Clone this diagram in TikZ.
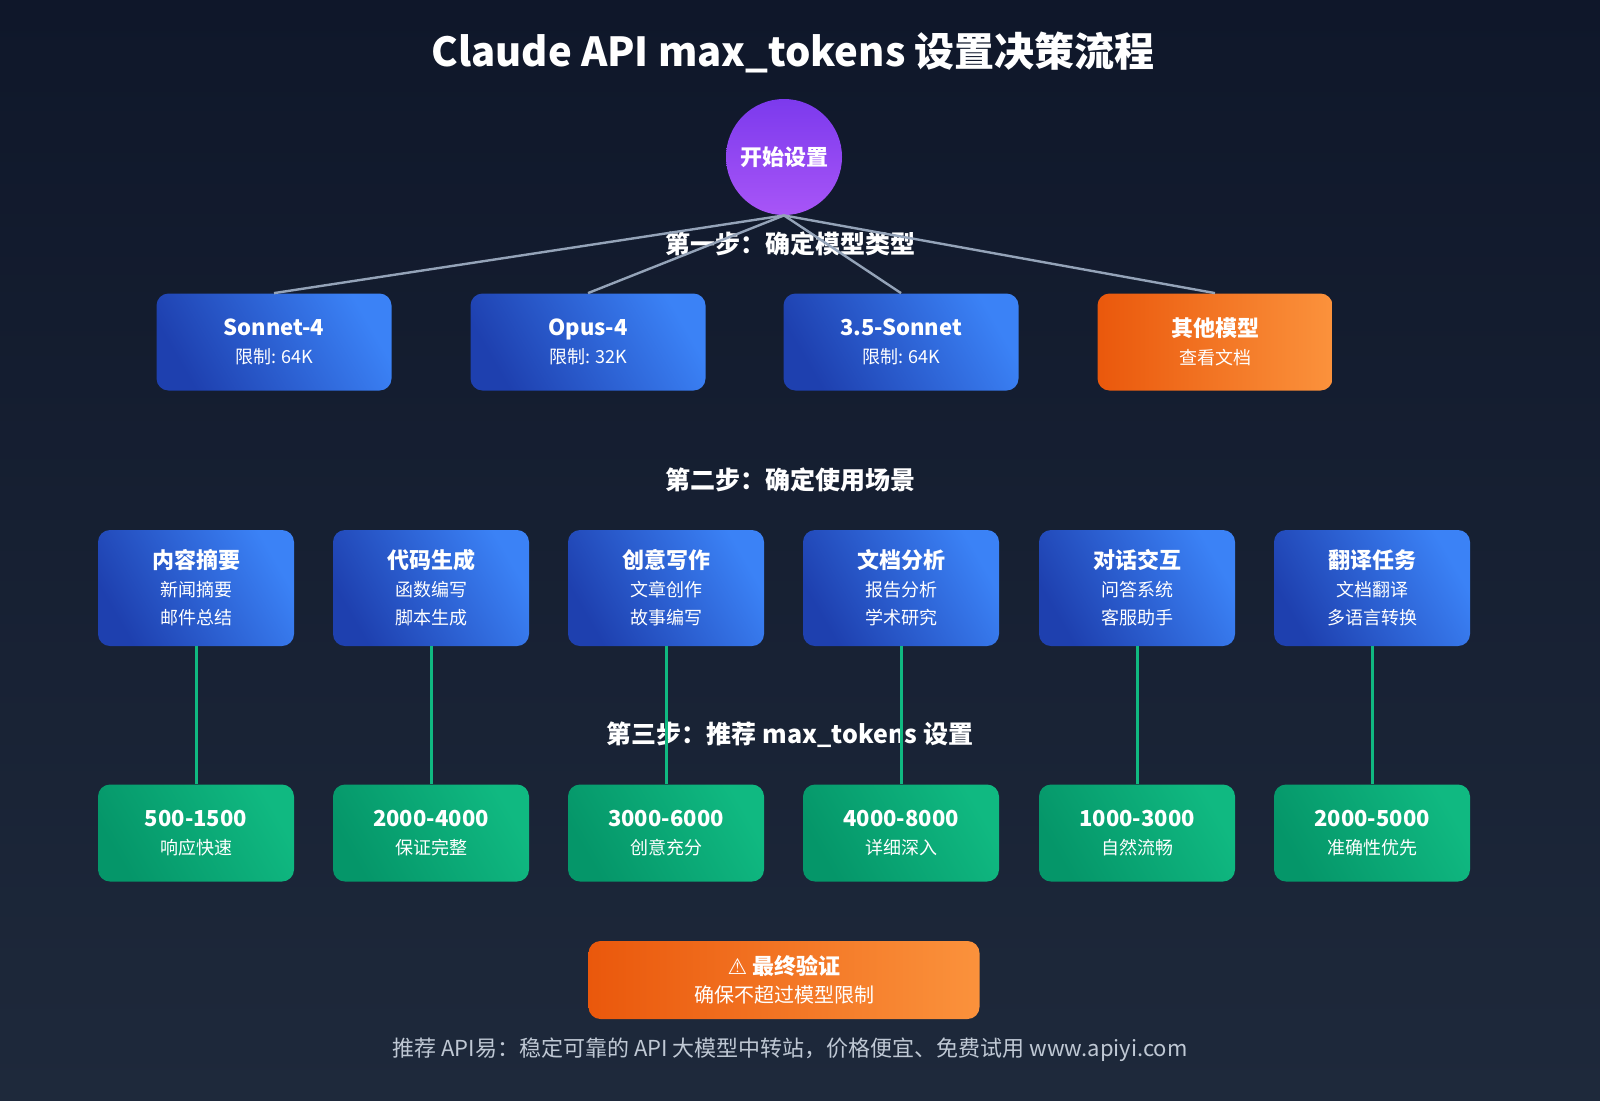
\documentclass[tikz,border=0pt]{standalone}
\usepackage{fontspec}
\setmainfont{Noto Sans CJK SC}
\newfontfamily\symfont{DejaVu Sans}
\usetikzlibrary{positioning}
\definecolor{bgtop}{HTML}{0F172A}
\definecolor{bgbot}{HTML}{1E293B}
\definecolor{bluea}{HTML}{1E40AF}
\definecolor{blueb}{HTML}{3B82F6}
\definecolor{orangea}{HTML}{EA580C}
\definecolor{orangeb}{HTML}{FB923C}
\definecolor{greena}{HTML}{059669}
\definecolor{greenb}{HTML}{10B981}
\definecolor{purplea}{HTML}{7C3AED}
\definecolor{purpleb}{HTML}{A855F7}
\definecolor{linegray}{HTML}{94A3B8}
\newcommand{\subtxt}{\mdseries\fontsize{9}{14}\selectfont}
\tikzset{
	box/.style={rounded corners=6pt, text=white, align=center, inner sep=0pt, font=\bfseries\fontsize{11}{15}\selectfont},
	model/.style={box, minimum width=117.5pt, minimum height=48.5pt, shading=axis, left color=bluea, right color=blueb, shading angle=120},
	other/.style={model, left color=orangea, right color=orangeb},
	scene/.style={box, minimum width=98pt, minimum height=58pt, shading=axis, left color=bluea, right color=blueb, shading angle=120},
	result/.style={box, minimum width=98pt, minimum height=48.5pt, shading=axis, left color=greena, right color=greenb, shading angle=120},
	steplabel/.style={text=white, font=\bfseries\fontsize{12.5}{14}\selectfont},
	tree/.style={draw=linegray, line width=1.2pt},
	link/.style={draw=greenb, line width=1.5pt}
}
\begin{document}
\begin{tikzpicture}[x=0.5pt,y=-0.5pt]
	% background
	\shade[top color=bgtop, bottom color=bgbot] (0,0) rectangle (1600,1100);
	\useasboundingbox (0,0) rectangle (1600,1100);

	\node[text=white, font=\bfseries\fontsize{20}{24}\selectfont] (title) at (793,52) {Claude API max\_tokens 设置决策流程};

	\node[circle, minimum size=58pt, inner sep=0pt, shading=axis, top color=purplea, bottom color=purpleb, text=white, font=\bfseries\fontsize{11}{13}\selectfont] (start) at (784,157) {开始设置};

	% steps
	\node[steplabel] (step1) at (790,244) {第一步：确定模型类型};
	\node[steplabel] (step2) at (790,480) {第二步：确定使用场景};
	\node[steplabel] (step3) at (790,735) {第三步：推荐 max\_tokens 设置};

	% models
	\node[model] (m1) at (274,342) {Sonnet-4\\[-1pt]{\subtxt 限制: 64K}};
	\node[model] (m2) at (588,342) {Opus-4\\[-1pt]{\subtxt 限制: 32K}};
	\node[model] (m3) at (901,342) {3.5-Sonnet\\[-1pt]{\subtxt 限制: 64K}};
	\node[other] (m4) at (1215,342) {其他模型\\[-1pt]{\subtxt 查看文档}};
	\foreach \m in {m1,m2,m3,m4}
		\draw[tree] (start.south) -- (\m.north);

	% scenes
	\node[scene] (s1) at (196,588) {内容摘要\\[-1pt]{\subtxt 新闻摘要}\\[-1pt]{\subtxt 邮件总结}};
	\node[scene] (s2) at (431,588) {代码生成\\[-1pt]{\subtxt 函数编写}\\[-1pt]{\subtxt 脚本生成}};
	\node[scene] (s3) at (666,588) {创意写作\\[-1pt]{\subtxt 文章创作}\\[-1pt]{\subtxt 故事编写}};
	\node[scene] (s4) at (901,588) {文档分析\\[-1pt]{\subtxt 报告分析}\\[-1pt]{\subtxt 学术研究}};
	\node[scene] (s5) at (1137,588) {对话交互\\[-1pt]{\subtxt 问答系统}\\[-1pt]{\subtxt 客服助手}};
	\node[scene] (s6) at (1372,588) {翻译任务\\[-1pt]{\subtxt 文档翻译}\\[-1pt]{\subtxt 多语言转换}};

	% results
	\node[result] (r1) at (196,833) {500-1500\\[-1pt]{\subtxt 响应快速}};
	\node[result] (r2) at (431,833) {2000-4000\\[-1pt]{\subtxt 保证完整}};
	\node[result] (r3) at (666,833) {3000-6000\\[-1pt]{\subtxt 创意充分}};
	\node[result] (r4) at (901,833) {4000-8000\\[-1pt]{\subtxt 详细深入}};
	\node[result] (r5) at (1137,833) {1000-3000\\[-1pt]{\subtxt 自然流畅}};
	\node[result] (r6) at (1372,833) {2000-5000\\[-1pt]{\subtxt 准确性优先}};
	\foreach \i in {1,...,6}
		\draw[link] (s\i.south) -- (r\i.north);

	% final check
	\node[model, minimum width=195.5pt, minimum height=39pt, left color=orangea, right color=orangeb] (check) at (784,980) {{\symfont ⚠} 最终验证\\[-1pt]{\subtxt\fontsize{10}{14}\selectfont 确保不超过模型限制}};

	\node[text=linegray!60!white, font=\fontsize{11}{13}\selectfont] (footer) at (790,1050) {推荐 API易：稳定可靠的 API 大模型中转站，价格便宜、免费试用 www.apiyi.com};
\end{tikzpicture}
\end{document}
